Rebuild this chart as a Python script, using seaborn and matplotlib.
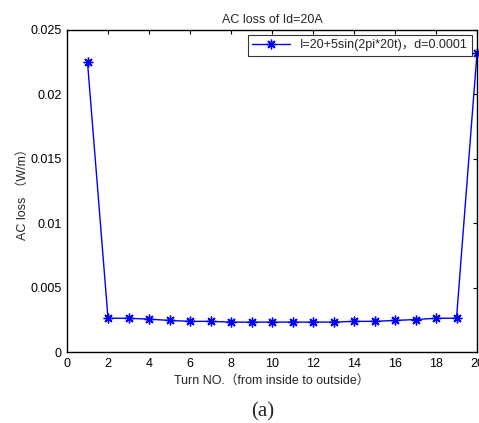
import matplotlib
matplotlib.use("Agg")
import matplotlib.pyplot as plt
import matplotlib.ticker as mticker
import seaborn as sns
import pandas as pd

turns = list(range(1, 21))
ac_loss = [0.0225, 0.00262, 0.00262, 0.00255, 0.00245, 0.00238, 0.00238, 0.00232,
           0.00232, 0.00232, 0.00232, 0.00232, 0.00232, 0.00238, 0.00238, 0.00245,
           0.00252, 0.00262, 0.00262, 0.0232]
series_label = "I=20+5sin(2pi*20t)，d=0.0001"
title = "AC loss of Id=20A"
xlabel = "Turn NO.（from inside to outside）"
ylabel = "AC loss （W/m）"
xticks = list(range(0, 21, 2))
yticks = [0, 0.005, 0.01, 0.015, 0.02, 0.025]

sns.set_theme(style="white")
plt.rcParams['font.family'] = ['Liberation Sans', 'Noto Sans CJK SC', 'DejaVu Sans']

df = pd.DataFrame({"turn": turns, "loss": ac_loss, "series": series_label})

fig = plt.figure(figsize=(4.79, 4.23), dpi=100)
ax = fig.add_axes([67/479, 1-352/423, (477-67)/479, (352-30)/423])

sns.lineplot(data=df, x="turn", y="loss", hue="series", palette=["#0000ff"],
             marker=(8, 2, 0), markersize=7, markeredgecolor="#0000ff",
             markeredgewidth=1.0, linewidth=1.0, ax=ax, clip_on=False)

ax.set_xlim(0, 20)
ax.set_ylim(0, 0.025)
ax.set_xticks(xticks)
ax.set_yticks(yticks)
ax.yaxis.set_major_formatter(mticker.FuncFormatter(lambda v, p: "%g" % v))
ax.tick_params(direction="in", length=3, width=0.8, labelsize=9, top=True, right=True,
               colors="black", pad=4)
for s in ax.spines.values():
    s.set_color("black")
    s.set_linewidth(1.0)

ax.set_title(title, fontsize=9, pad=5)
ax.set_xlabel(xlabel, fontsize=9, labelpad=4)
ax.set_ylabel(ylabel, fontsize=9, labelpad=1)

leg = ax.legend(loc="upper right", fontsize=9, frameon=True, fancybox=False,
                edgecolor="black", borderpad=0.35, handlelength=3, borderaxespad=0.4)
leg.get_frame().set_linewidth(0.8)

fig.text(263/479, 1-412/423, "(a)", ha="center", va="center",
         fontsize=15, family="Liberation Serif")

fig.savefig("out.png", dpi=100)
